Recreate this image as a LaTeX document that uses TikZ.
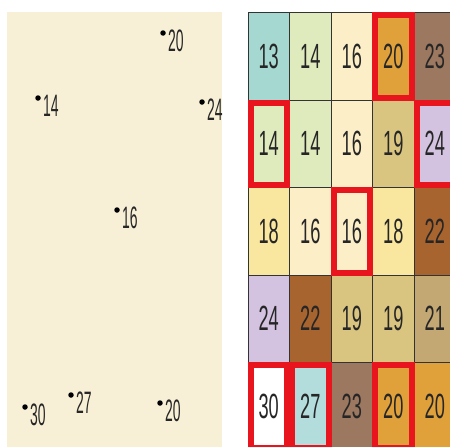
\documentclass[tikz,border=0pt]{standalone}
\usepackage{fontspec}
\setmainfont{Liberation Sans}
\definecolor{panelbg}{HTML}{F8F0D6}
\definecolor{cteal}{HTML}{A6D8D2}
\definecolor{cgreen}{HTML}{DFEABD}
\definecolor{ccream}{HTML}{FCEFC8}
\definecolor{corange}{HTML}{E1A13A}
\definecolor{cbrownA}{HTML}{9C7860}
\definecolor{ckhaki}{HTML}{D9C57F}
\definecolor{clav}{HTML}{D3C3E1}
\definecolor{cyellow}{HTML}{F9E7A0}
\definecolor{cbrownB}{HTML}{A8642E}
\definecolor{ctan}{HTML}{C3A874}
\definecolor{ctealB}{HTML}{B3DCDC}
\definecolor{hired}{HTML}{E8141E}
\newcommand{\narrowcell}[1]{\scalebox{0.52}[1]{#1}}
\newcommand{\narrowlab}[1]{\scalebox{0.45}[1]{#1}}
\begin{document}
\begin{tikzpicture}[x=1pt,y=-1pt,
  cell/.style={draw=black!80,line width=0.8pt,minimum width=41.5pt,minimum height=87.5pt,inner sep=0pt,outer sep=0pt,
     font=\fontsize{35}{35}\selectfont,text=black!85},
  hl/.style={draw=hired,line width=6pt},
  pt/.style={circle,fill=black,inner sep=0pt,minimum size=5.5pt},
  lab/.style={anchor=base west,inner sep=0pt,font=\fontsize{31}{31}\selectfont,text=black!85}]
\useasboundingbox (0,0) rectangle (450,447);
\begin{scope}
\clip (0,0) rectangle (450,447);
\fill[white] (0,0) rectangle (450,447);
\node[fill=panelbg,minimum width=215pt,minimum height=440pt,inner sep=0pt,anchor=north west] (panel) at (7,12) {};
% sample points
\node[pt] (p1) at (163,33) {}; \node[lab] (l1) at ([shift={(2pt,-18pt)}]p1.east) {\narrowlab{20}};
\node[pt] (p2) at (38,98) {};  \node[lab] (l2) at ([shift={(2pt,-18pt)}]p2.east) {\narrowlab{14}};
\node[pt] (p3) at (202,102) {}; \node[lab] (l3) at ([shift={(2pt,-18pt)}]p3.east) {\narrowlab{24}};
\node[pt] (p4) at (117,210) {}; \node[lab] (l4) at ([shift={(2pt,-18pt)}]p4.east) {\narrowlab{16}};
\node[pt] (p5) at (25,407) {}; \node[lab] (l5) at ([shift={(2pt,-18pt)}]p5.east) {\narrowlab{30}};
\node[pt] (p6) at (71,395) {}; \node[lab] (l6) at ([shift={(2pt,-18pt)}]p6.east) {\narrowlab{27}};
\node[pt] (p7) at (160,403) {}; \node[lab] (l7) at ([shift={(2pt,-18pt)}]p7.east) {\narrowlab{20}};
% grid
\foreach \c/\r/\col/\v in {
  1/1/cteal/13, 2/1/cgreen/14, 3/1/ccream/16, 4/1/corange/20, 5/1/cbrownA/23,
  1/2/cgreen/14, 2/2/cgreen/14, 3/2/ccream/16, 4/2/ckhaki/19, 5/2/clav/24,
  1/3/cyellow/18, 2/3/ccream/16, 3/3/ccream/16, 4/3/cyellow/18, 5/3/cbrownB/22,
  1/4/clav/24, 2/4/cbrownB/22, 3/4/ckhaki/19, 4/4/ckhaki/19, 5/4/ctan/21,
  1/5/white/30, 2/5/ctealB/27, 3/5/cbrownA/23, 4/5/corange/20, 5/5/corange/20}{
  \node[cell,fill=\col] (g\c\r) at ({248+41.5*(\c-1)+20.75},{12.5+87.5*(\r-1)+43.75}) {\narrowcell{\v}};
}
\foreach \n in {g41,g12,g52,g33,g15,g25,g45}{
  \draw[hl] ([shift={(2.5pt,-2.5pt)}]\n.north west) rectangle ([shift={(-2.5pt,2.5pt)}]\n.south east);
}
\end{scope}
\end{tikzpicture}
\end{document}
